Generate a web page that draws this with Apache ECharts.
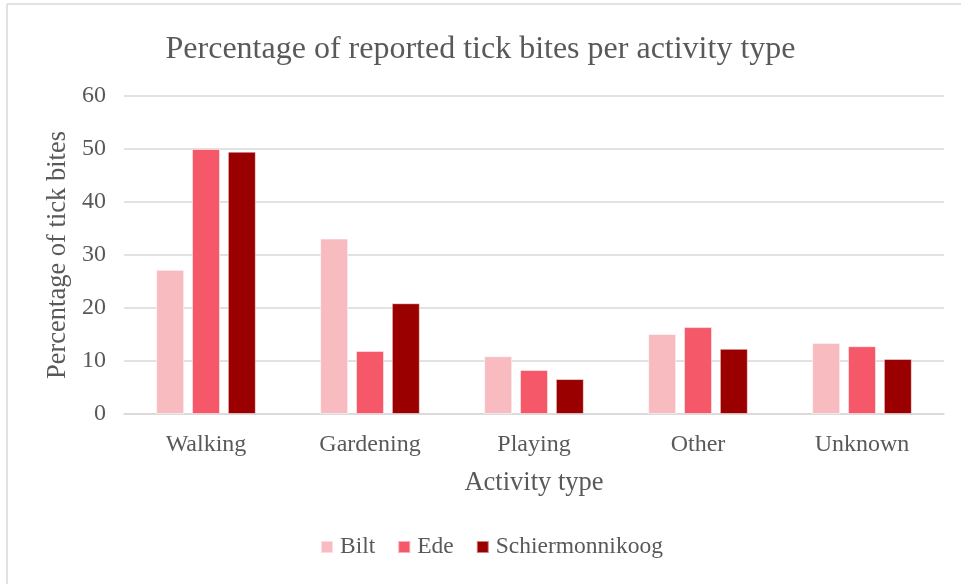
<!DOCTYPE html>
<html><head><meta charset="utf-8">
<script src="https://cdn.jsdelivr.net/npm/echarts@6/dist/echarts.min.js"></script>
<style>html,body{margin:0;padding:0;background:#fff}#c{width:961px;height:584px}</style>
</head><body><div id="c"></div>
<script>
const categories = ['Walking','Gardening','Playing','Other','Unknown'];
const bilt = [27.2, 33.1, 10.9, 15.1, 13.4];
const ede = [50.0, 11.9, 8.3, 16.4, 12.8];
const schiermonnikoog = [49.5, 20.9, 6.6, 12.3, 10.4];
const yTicks = [0, 10, 20, 30, 40, 50, 60];

const font = 'Liberation Serif, Times New Roman, serif';
const txt = '#595959';
const chart = echarts.init(document.getElementById('c'));
const mk = (name, data, color) => ({
  name, type: 'bar', data, barWidth: 28, barGap: '28%',
  itemStyle: {color, borderColor: 'rgba(255,255,255,0.5)', borderWidth: 1}
});
chart.setOption({
  animation: false,
  title: {text: 'Percentage of reported tick bites per activity type', left: 'center', top: 29,
    textStyle: {fontFamily: font, fontSize: 32, fontWeight: 'normal', color: txt}},
  legend: {bottom: 20, left: 315, itemWidth: 12, itemHeight: 12, itemGap: 22, icon: 'rect',
    textStyle: {fontFamily: font, fontSize: 23.5, color: txt, padding: [0, 0, 0, 2]}},
  grid: {left: 124, right: 17, top: 96, bottom: 170},
  xAxis: {type: 'category', data: categories, name: 'Activity type', nameLocation: 'middle', nameGap: 56,
    nameTextStyle: {fontFamily: font, fontSize: 26.5, color: txt},
    axisLine: {lineStyle: {color: '#d9d9d9', width: 1.5}}, axisTick: {show: false},
    axisLabel: {fontFamily: font, fontSize: 24, color: txt, margin: 19}},
  yAxis: {type: 'value', min: yTicks[0], max: yTicks[yTicks.length-1], interval: 10,
    name: 'Percentage of tick bites', nameLocation: 'middle', nameGap: 52,
    nameTextStyle: {fontFamily: font, fontSize: 26.5, color: txt},
    axisLine: {show: false}, axisTick: {show: false},
    axisLabel: {fontFamily: font, fontSize: 24, color: txt, margin: 18},
    splitLine: {lineStyle: {color: '#d9d9d9', width: 1.5}}},
  graphic: [
    {type: 'line', shape: {x1: 7, y1: 4, x2: 7, y2: 584}, style: {stroke: '#d9d9d9', lineWidth: 1.5}},
    {type: 'line', shape: {x1: 7, y1: 4, x2: 961, y2: 4}, style: {stroke: '#d9d9d9', lineWidth: 1.5}}
  ],
  series: [
    mk('Bilt', bilt, '#F8BBC0'),
    mk('Ede', ede, '#F55869'),
    mk('Schiermonnikoog', schiermonnikoog, '#9B0000')
  ]
});
</script></body></html>
